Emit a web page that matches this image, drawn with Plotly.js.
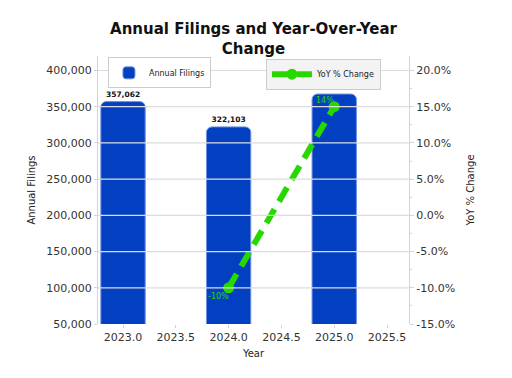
<!DOCTYPE html>
<html>
<head>
<meta charset="utf-8">
<script src="https://cdn.plot.ly/plotly-3.0.1.min.js"></script>
<style>html,body{margin:0;padding:0;background:#fff;}#chart{width:512px;height:378px;}</style>
</head>
<body>
<div id="chart"></div>
<script>
const years = [2023, 2024, 2025];
const filings = [357062, 322103, 367460];
const yoyYears = [2024, 2025];
const yoyValues = [-10, 15];
const yoyLabels = ["-10%", "14%"];
const leftTicks = [50000, 100000, 150000, 200000, 250000, 300000, 350000, 400000];
const rightTicks = [-15, -10, -5, 0, 5, 10, 15, 20];
const xTicks = [2023.0, 2023.5, 2024.0, 2024.5, 2025.0, 2025.5];

const FONT = "DejaVu Sans, sans-serif";
const GREEN = "#27d800";
const BLUE = "#0340c1";
const GRID = "#dcdcdc";
const SPINE = "#d4d4d4";

const bars = {
  type: "bar",
  name: "Annual Filings",
  x: years,
  y: filings,
  width: 0.42,
  marker: { color: BLUE, line: { color: "#6f92e0", width: 1 }, cornerradius: 6 },
  text: filings.map(v => v.toLocaleString("en-US")),
  textposition: "outside",
  cliponaxis: false,
  textfont: { family: FONT, size: 7.5, color: "#111", weight: "bold" },
  legend: "legend",
  showlegend: true,
  xaxis: "x", yaxis: "y",
  hoverinfo: "skip"
};

const line = {
  type: "scatter",
  mode: "lines+markers",
  name: "YoY % Change",
  x: yoyYears,
  y: yoyValues,
  line: { color: GREEN, width: 6, dash: "16px,9px" },
  marker: { color: GREEN, size: 11 },
  legend: "legend2",
  showlegend: true,
  xaxis: "x", yaxis: "y2",
  hoverinfo: "skip"
};

const annotations = yoyYears.map((yr, i) => ({
  x: yr, y: yoyValues[i], xref: "x", yref: "y2",
  text: yoyLabels[i], showarrow: false,
  xanchor: "right", yanchor: "middle",
  xshift: 2, yshift: yoyValues[i] < 0 ? -9 : 6,
  font: { family: FONT, size: 8, color: GREEN }
}));

const shapes = rightTicks.slice(1).map(t => ({
  type: "line", xref: "paper", x0: 0, x1: 1, yref: "y2", y0: t, y1: t,
  line: { color: GRID, width: 1.2 }, layer: "above"
}));

const layout = {
  width: 512, height: 378,
  paper_bgcolor: "#fff", plot_bgcolor: "#fff",
  margin: { l: 98, r: 103, t: 56, b: 54 },
  font: { family: FONT, color: "#222" },
  showlegend: true,
  title: {
    text: "Annual Filings and Year-Over-Year<br>Change",
    x: 0.5, xref: "paper", xanchor: "center",
    y: 1 - 34 / 378, yref: "container", yanchor: "top",
    font: { family: FONT, size: 15, color: "#111", weight: "bold" }
  },
  xaxis: {
    range: [2022.763, 2025.708],
    tickvals: xTicks,
    ticktext: xTicks.map(v => v.toFixed(1)),
    ticks: "outside", ticklen: 3, tickcolor: SPINE,
    showgrid: false, zeroline: false, showline: false,
    tickfont: { family: FONT, size: 11, color: "#333" },
    title: { text: "Year", font: { family: FONT, size: 10, color: "#222" }, standoff: 6 }
  },
  yaxis: {
    range: [50000, 420000],
    tickvals: leftTicks,
    ticktext: leftTicks.map(v => v.toLocaleString("en-US")),
    ticks: "outside", ticklen: 3, tickcolor: SPINE,
    showgrid: false, zeroline: false,
    showline: true, linecolor: SPINE, linewidth: 1,
    tickfont: { family: FONT, size: 11, color: "#333" },
    title: { text: "Annual Filings", font: { family: FONT, size: 10, color: "#222" }, standoff: 8 }
  },
  yaxis2: {
    overlaying: "y", side: "right",
    range: [-15, 22],
    tickvals: rightTicks,
    ticktext: rightTicks.map(v => v.toFixed(1) + "%"),
    ticks: "outside", ticklen: 4, tickcolor: SPINE,
    minor: { dtick: 2.5, tick0: 0, ticks: "outside", ticklen: 2, tickcolor: SPINE },
    showgrid: false, zeroline: false,
    showline: true, linecolor: SPINE, linewidth: 1,
    tickfont: { family: FONT, size: 11, color: "#333" },
    title: { text: "YoY % Change", font: { family: FONT, size: 10, color: "#222" }, standoff: 12 }
  },
  legend: {
    visible: true,
    x: 0.032, y: 0.995, xanchor: "left", yanchor: "top",
    bgcolor: "#ffffff", bordercolor: "#cccccc", borderwidth: 1,
    font: { family: FONT, size: 8, color: "#222" }
  },
  legend2: {
    visible: true,
    x: 0.54, y: 0.99, xanchor: "left", yanchor: "top",
    bgcolor: "#f3f3f3", bordercolor: "#cccccc", borderwidth: 1,
    itemwidth: 40,
    font: { family: FONT, size: 8, color: "#222" }
  },
  annotations: annotations,
  shapes: shapes,
  bargap: 0
};

Plotly.newPlot("chart", [bars, line], layout, { displayModeBar: false, staticPlot: true });
</script>
</body>
</html>
